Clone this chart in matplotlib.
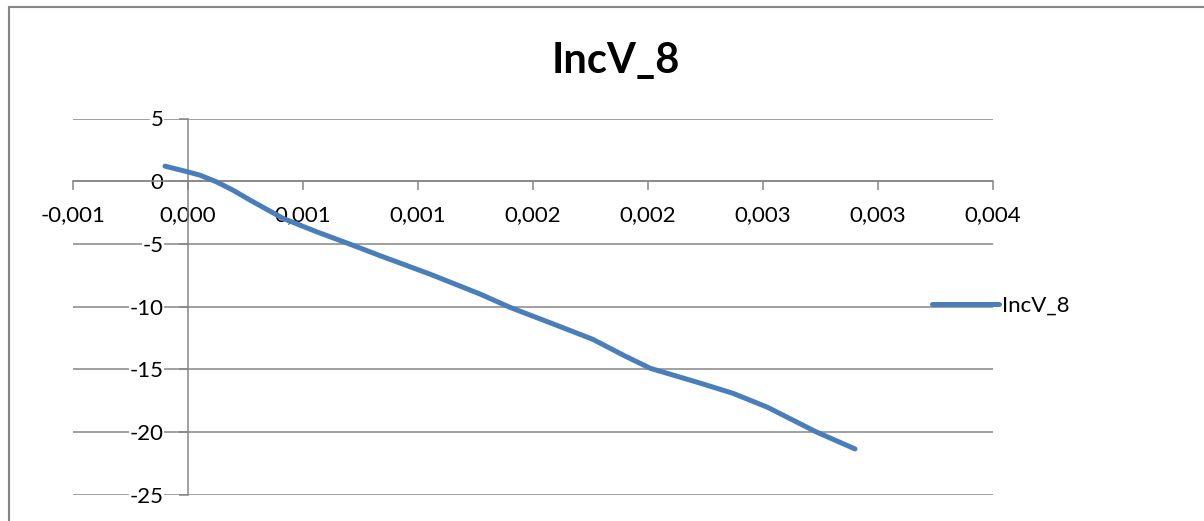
import matplotlib
matplotlib.use("Agg")
import matplotlib.pyplot as plt
from matplotlib.lines import Line2D
from matplotlib.patches import Rectangle

plt.rcParams['font.family'] = ['Lato', 'DejaVu Sans']

# Series values
series_name = "IncV_8"
x_vals = [-0.0001, 0.0, 0.000052, 0.000125, 0.000196, 0.00027, 0.000414,
          0.00056, 0.000704, 0.000835, 0.001052, 0.00127, 0.0014, 0.00162,
          0.00176, 0.0019, 0.00201, 0.00223, 0.00237, 0.00252, 0.00273,
          0.0029]
y_vals = [1.20, 0.74, 0.48, -0.06, -0.72, -1.51, -2.97,
          -4.04, -5.02, -5.94, -7.41, -9.0, -10.06, -11.61,
          -12.61, -13.94, -14.92, -16.12, -16.92, -18.03, -19.98,
          -21.35]

# Axis ticks
x_ticks = [-0.0005, 0.0, 0.0005, 0.001, 0.0015, 0.002, 0.0025, 0.003, 0.0035]
x_tick_labels = ["-0,001", "0,000", "0,001", "0,001", "0,002", "0,002",
                 "0,003", "0,003", "0,004"]
y_ticks = [5, 0, -5, -10, -15, -20, -25]
y_tick_labels = ["5", "0", "-5", "-10", "-15", "-20", "-25"]

W, H = 1204, 521
fig = plt.figure(figsize=(W / 100, H / 100), dpi=100)

grid_color = "#868686"
line_color = "#4A7EBB"

# chart-area frame
fig.patches.append(Rectangle((9 / W, -0.05), 1.2, 1 - 7 / H + 0.05,
                             transform=fig.transFigure, fill=False,
                             edgecolor=grid_color, linewidth=1.5))

left, right = 73 / W, 993 / W
bottom, top = (H - 494.7) / H, (H - 118.5) / H
ax = fig.add_axes([left, bottom, right - left, top - bottom])
ax.set_facecolor("none")

ax.plot(x_vals, y_vals, color=line_color, linewidth=3.6,
        solid_capstyle="round", solid_joinstyle="round", zorder=5)

ax.set_xlim(x_ticks[0], x_ticks[-1])
ax.set_ylim(y_ticks[-1], y_ticks[0])

ax.set_xticks(x_ticks)
ax.set_xticklabels(x_tick_labels)
ax.set_yticks(y_ticks)
ax.set_yticklabels(y_tick_labels)

# horizontal gridlines only
ax.yaxis.grid(True, color=grid_color, linewidth=1.1)
ax.xaxis.grid(False)
ax.set_axisbelow(True)

for side in ("top", "right"):
    ax.spines[side].set_visible(False)
ax.spines["left"].set_position(("data", 0))
ax.spines["bottom"].set_position(("data", 0))
for side in ("left", "bottom"):
    ax.spines[side].set_color(grid_color)
    ax.spines[side].set_linewidth(1.1)

ax.tick_params(axis="x", direction="out", length=6.5, width=1.1,
               color=grid_color, labelsize=16, pad=11)
ax.tick_params(axis="y", direction="out", length=6.5, width=1.1,
               color=grid_color, labelsize=16, pad=11)

for lbl in ax.get_yticklabels():
    lbl.set_bbox(dict(facecolor="white", edgecolor="none", pad=0.5))

# title
fig.text(616 / W, (H - 73) / H, series_name, ha="center", va="baseline",
         fontsize=30, fontweight="bold")

# legend
handle = Line2D([], [], color=line_color, linewidth=3.6, solid_capstyle="round")
fig.legend([handle], [series_name], loc="center left",
           bbox_to_anchor=(932 / W, (H - 306) / H), frameon=False,
           fontsize=16, handlelength=3.0, handletextpad=0.15,
           borderaxespad=0, borderpad=0)

fig.savefig("out.png", dpi=100)
